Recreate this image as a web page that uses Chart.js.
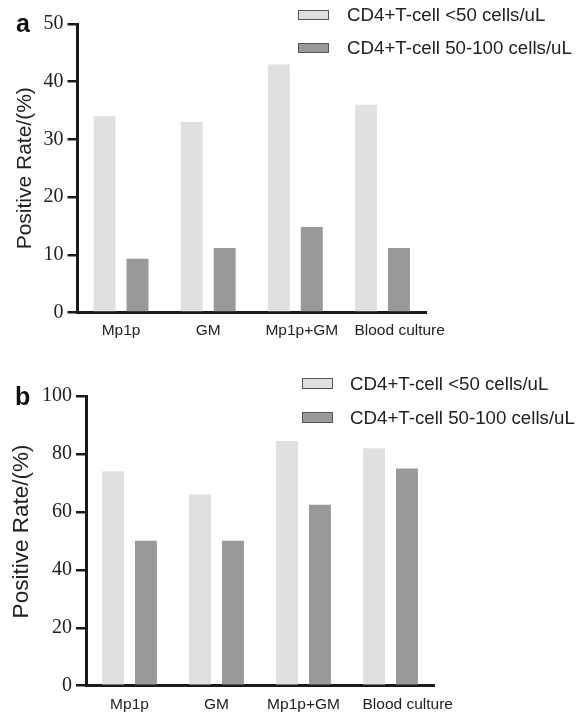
<!DOCTYPE html>
<html>
<head>
<meta charset="utf-8">
<script src="https://cdn.jsdelivr.net/npm/chart.js@4/dist/chart.umd.min.js"></script>
<style>
  body { margin: 0; background: #fff; }
  #wrap { position: relative; width: 583px; height: 713px; }
  canvas { position: absolute; left: 0; }
  #cA { top: 0; }
  #cB { top: 345px; }
  .tag { position: absolute; font: bold 25px "Liberation Sans", Arial, sans-serif; line-height: 25px; color: #111; }
</style>
</head>
<body>
<div id="wrap">
  <canvas id="cA" width="583" height="345"></canvas>
  <canvas id="cB" width="583" height="368"></canvas>
  <div class="tag" style="left:16px; top:11px;">a</div>
  <div class="tag" style="left:15px; top:384px;">b</div>
</div>
<script>
const categories = ['Mp1p', 'GM', 'Mp1p+GM', 'Blood culture'];
const seriesNames = ['CD4+T-cell <50 cells/uL', 'CD4+T-cell 50-100 cells/uL'];

// panel a
const aLow = [34, 33, 43, 36];
const aMid = [9.3, 11.2, 14.8, 11.2];
// panel b
const bLow = [74, 66, 84.5, 82];
const bMid = [50, 50, 62.5, 75];

const lightGray = '#e0e0e0';
const darkGray = '#999999';
const ink = '#1a1a1a';

// legend drawn at the top right, outside the normal layout
const sideLegend = {
  id: 'sideLegend',
  afterDraw(chart, args, opts) {
    const ctx = chart.ctx;
    ctx.save();
    ctx.font = '18.7px "Liberation Sans", Arial, sans-serif';
    ctx.textBaseline = 'middle';
    chart.data.datasets.forEach(function(ds, i) {
      const y = opts.y + i * opts.gap;
      ctx.fillStyle = ds.backgroundColor;
      ctx.fillRect(opts.x, y, opts.boxW, opts.boxH);
      ctx.strokeStyle = '#555';
      ctx.lineWidth = 1;
      ctx.strokeRect(opts.x + 0.5, y + 0.5, opts.boxW - 1, opts.boxH - 1);
      ctx.fillStyle = '#222';
      ctx.fillText(ds.label, opts.textX, y + opts.boxH / 2 + 1);
    });
    ctx.restore();
  }
};

function makeChart(id, low, mid, cfg) {
  return new Chart(document.getElementById(id), {
    type: 'bar',
    data: {
      labels: categories,
      datasets: [
        { label: seriesNames[0], data: low, backgroundColor: lightGray },
        { label: seriesNames[1], data: mid, backgroundColor: darkGray }
      ]
    },
    plugins: [sideLegend],
    options: {
      responsive: false,
      animation: false,
      devicePixelRatio: 1,
      layout: { padding: { left: 0, right: cfg.padRight, top: cfg.padTop, bottom: 0 } },
      datasets: { bar: { barPercentage: 0.667, categoryPercentage: 0.756 } },
      plugins: {
        legend: { display: false },
        tooltip: { enabled: false },
        sideLegend: cfg.legend
      },
      scales: {
        x: {
          grid: { display: false, drawTicks: false },
          border: { display: true, color: ink, width: 3 },
          ticks: {
            color: '#222',
            padding: cfg.xPad,
            maxRotation: 0,
            autoSkip: false,
            font: { family: '"Liberation Sans", Arial, sans-serif', size: 15.5 },
            // the original nudges some labels to the right
            callback: function(value, index) {
              return ' '.repeat(cfg.labelLead[index]) + this.getLabelForValue(value);
            }
          },
          afterFit: function(scale) { scale.height = cfg.xHeight; }
        },
        y: {
          min: 0,
          max: cfg.yMax,
          ticks: {
            stepSize: cfg.yStep,
            color: '#222',
            padding: 4,
            font: { family: '"Liberation Serif", "Times New Roman", serif', size: 20 }
          },
          grid: { display: true, drawOnChartArea: false, drawTicks: true, tickLength: 10, color: ink, lineWidth: 2.5 },
          border: { display: true, color: ink, width: 3 },
          title: {
            display: true,
            text: cfg.titleLead + 'Positive Rate/(%)',
            color: '#222',
            padding: { top: cfg.titlePad, bottom: 0 },
            font: { family: '"Liberation Sans", Arial, sans-serif', size: cfg.titleSize }
          },
          afterFit: function(scale) { scale.width = cfg.yWidth; }
        }
      }
    }
  });
}

makeChart('cA', aLow, aMid, {
  padRight: 157, padTop: 24, xHeight: 32.5, xPad: 9,
  yMax: 50, yStep: 10, yWidth: 77.5, titlePad: 12.5, titleSize: 21, titleLead: '',
  labelLead: [0, 0, 3, 8],
  legend: { x: 298, y: 10, gap: 33, boxW: 31, boxH: 10, textX: 347 }
});

makeChart('cB', bLow, bMid, {
  padRight: 149, padTop: 51, xHeight: 27.3, xPad: 10,
  yMax: 100, yStep: 20, yWidth: 86, titlePad: 8.5, titleSize: 22.5, titleLead: '   ',
  labelLead: [0, 0, 0, 8],
  legend: { x: 302, y: 33, gap: 34, boxW: 31, boxH: 11, textX: 350 }
});
</script>
</body>
</html>
